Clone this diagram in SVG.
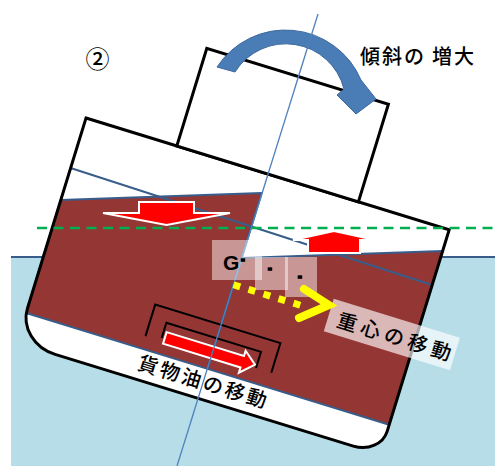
<svg xmlns="http://www.w3.org/2000/svg" width="495" height="466" viewBox="0 0 495 466">
<defs>
<style>
.hullfill{fill:#fff;stroke:none}
.hullline{fill:none;stroke:#000;stroke-width:3;stroke-linejoin:miter}
.oil{fill:#943634;stroke:#385d8a;stroke-width:2;stroke-linejoin:round}
.wall{fill:none;stroke:#385d8a;stroke-width:2}
.red{fill:#ff0000;stroke:#fff;stroke-width:2;stroke-linejoin:miter}
.bracket{fill:none;stroke:#000;stroke-width:2}
.jp{font-family:"Noto Sans CJK JP","Noto Sans CJK SC",sans-serif;fill:#000;font-weight:500}
.gbox{fill:#fff;fill-opacity:0.48}
.dot{fill:#000}
</style>
</defs>
<rect width="495" height="466" fill="#fff"/>

<!-- sea -->
<g id="sea">
  <rect x="11" y="257" width="484" height="209" fill="#b7dee8"/>
  <line x1="11" y1="257" x2="495" y2="257" stroke="#385d8a" stroke-width="2"/>
</g>

<!-- hull body, heeled 17 degrees -->
<g id="hull">
  <g transform="translate(86,118) rotate(17.1)">
    <path class="hullfill" d="M0,0 H380 V211 A28,24 0 0 1 352,235 H40 A40,36 0 0 1 0,199 Z"/>
  </g>
  <!-- cargo oil in the two tanks -->
  <polygon class="oil" points="60.8,200 261.7,193 207.6,368.9 26.2,313"/>
  <polygon class="oil" points="241.7,258 442.6,251 389.2,424.7 207.6,368.9"/>
  <!-- former level line and tank side -->
  <line class="wall" x1="70.6" y1="168" x2="432.2" y2="285"/>
  <polyline class="wall" points="70.6,168 60.8,200"/>
  <g transform="translate(86,118) rotate(17.1)">
    <path class="hullline" d="M0,0 H380 V211 A28,24 0 0 1 352,235 H40 A40,36 0 0 1 0,199 Z"/>
    <!-- superstructure -->
    <rect x="95" y="-102" width="190" height="102" fill="#fff" stroke="#000" stroke-width="3"/>
  </g>
</g>

<!-- heel arrow -->
<g id="heel-arrow">
  <path d="M217,67 A82,82 0 0 1 361,80 L376,99 L356,114 L337,95 L344,89 A60,60 0 0 0 235,72 Z" fill="#4a7cb6" stroke="#3a679e" stroke-width="1"/>
</g>

<!-- free surface shift arrows -->
<g id="shift-arrows">
  <polygon class="red" points="139,202 194,202 194,213 230,213 166.5,225 103,213 139,213"/>
  <polygon class="red" points="308,253 360,253 360,240 375,240 334,231 293,240 308,240"/>
</g>

<!-- cargo oil transfer -->
<g id="cargo-move" transform="translate(86,118) rotate(17.1)">
  <polyline class="bracket" points="121,191 121,158 252,158 252,189"/>
  <polyline class="bracket" points="137,188 137,172 236,172 236,189"/>
  <polygon class="red" points="140,181 221,181 221,175.5 234,186 221,198.5 221,193 140,193"/>
  <text class="jp" x="122" y="225" font-size="20" letter-spacing="2.7">貨物油の移動</text>
</g>

<!-- waterline -->
<line id="waterline" x1="37" y1="228" x2="495" y2="228" stroke="#00b050" stroke-width="2.5" stroke-dasharray="10 6.5"/>

<!-- centreline of the ship -->
<line id="centreline" x1="318" y1="14" x2="177" y2="466" stroke="#4f81bd" stroke-width="1.3"/>

<!-- centre of gravity positions -->
<g id="gravity">
  <rect class="gbox" x="212" y="240" width="50" height="40"/>
  <rect class="gbox" x="255" y="257" width="33" height="33"/>
  <rect class="gbox" x="285" y="257" width="32" height="40"/>
  <text x="223" y="270" font-family="Liberation Sans, Arial, sans-serif" font-weight="bold" font-size="21" fill="#000">G</text>
  <rect class="dot" x="240.7" y="258.3" width="4.5" height="3.5"/>
  <rect class="dot" x="267.7" y="267.3" width="4.5" height="3.5"/>
  <rect class="dot" x="297.7" y="275.3" width="4.5" height="3.5"/>
</g>

<!-- shift of G -->
<g id="g-move">
  <g transform="translate(86,118) rotate(17.1)">
    <line x1="190" y1="116" x2="260" y2="116" stroke="#ffff00" stroke-width="7" stroke-dasharray="7 8.7"/>
    <rect x="290" y="100" width="132" height="34" fill="#fff" fill-opacity="0.65"/>
    <text class="jp" x="299.6" y="125.6" font-size="20" letter-spacing="4.6">重心の移動</text>
  </g>
  <polyline points="304,289 329,305 299,318" fill="none" stroke="#ffff00" stroke-width="8" stroke-linecap="round" stroke-linejoin="miter"/>
</g>

<!-- labels -->
<text class="jp" x="85.5" y="68" font-size="24">②</text>
<text class="jp" x="360" y="64" font-size="20" letter-spacing="2">傾斜の<tspan dx="6">増大</tspan></text>
</svg>
